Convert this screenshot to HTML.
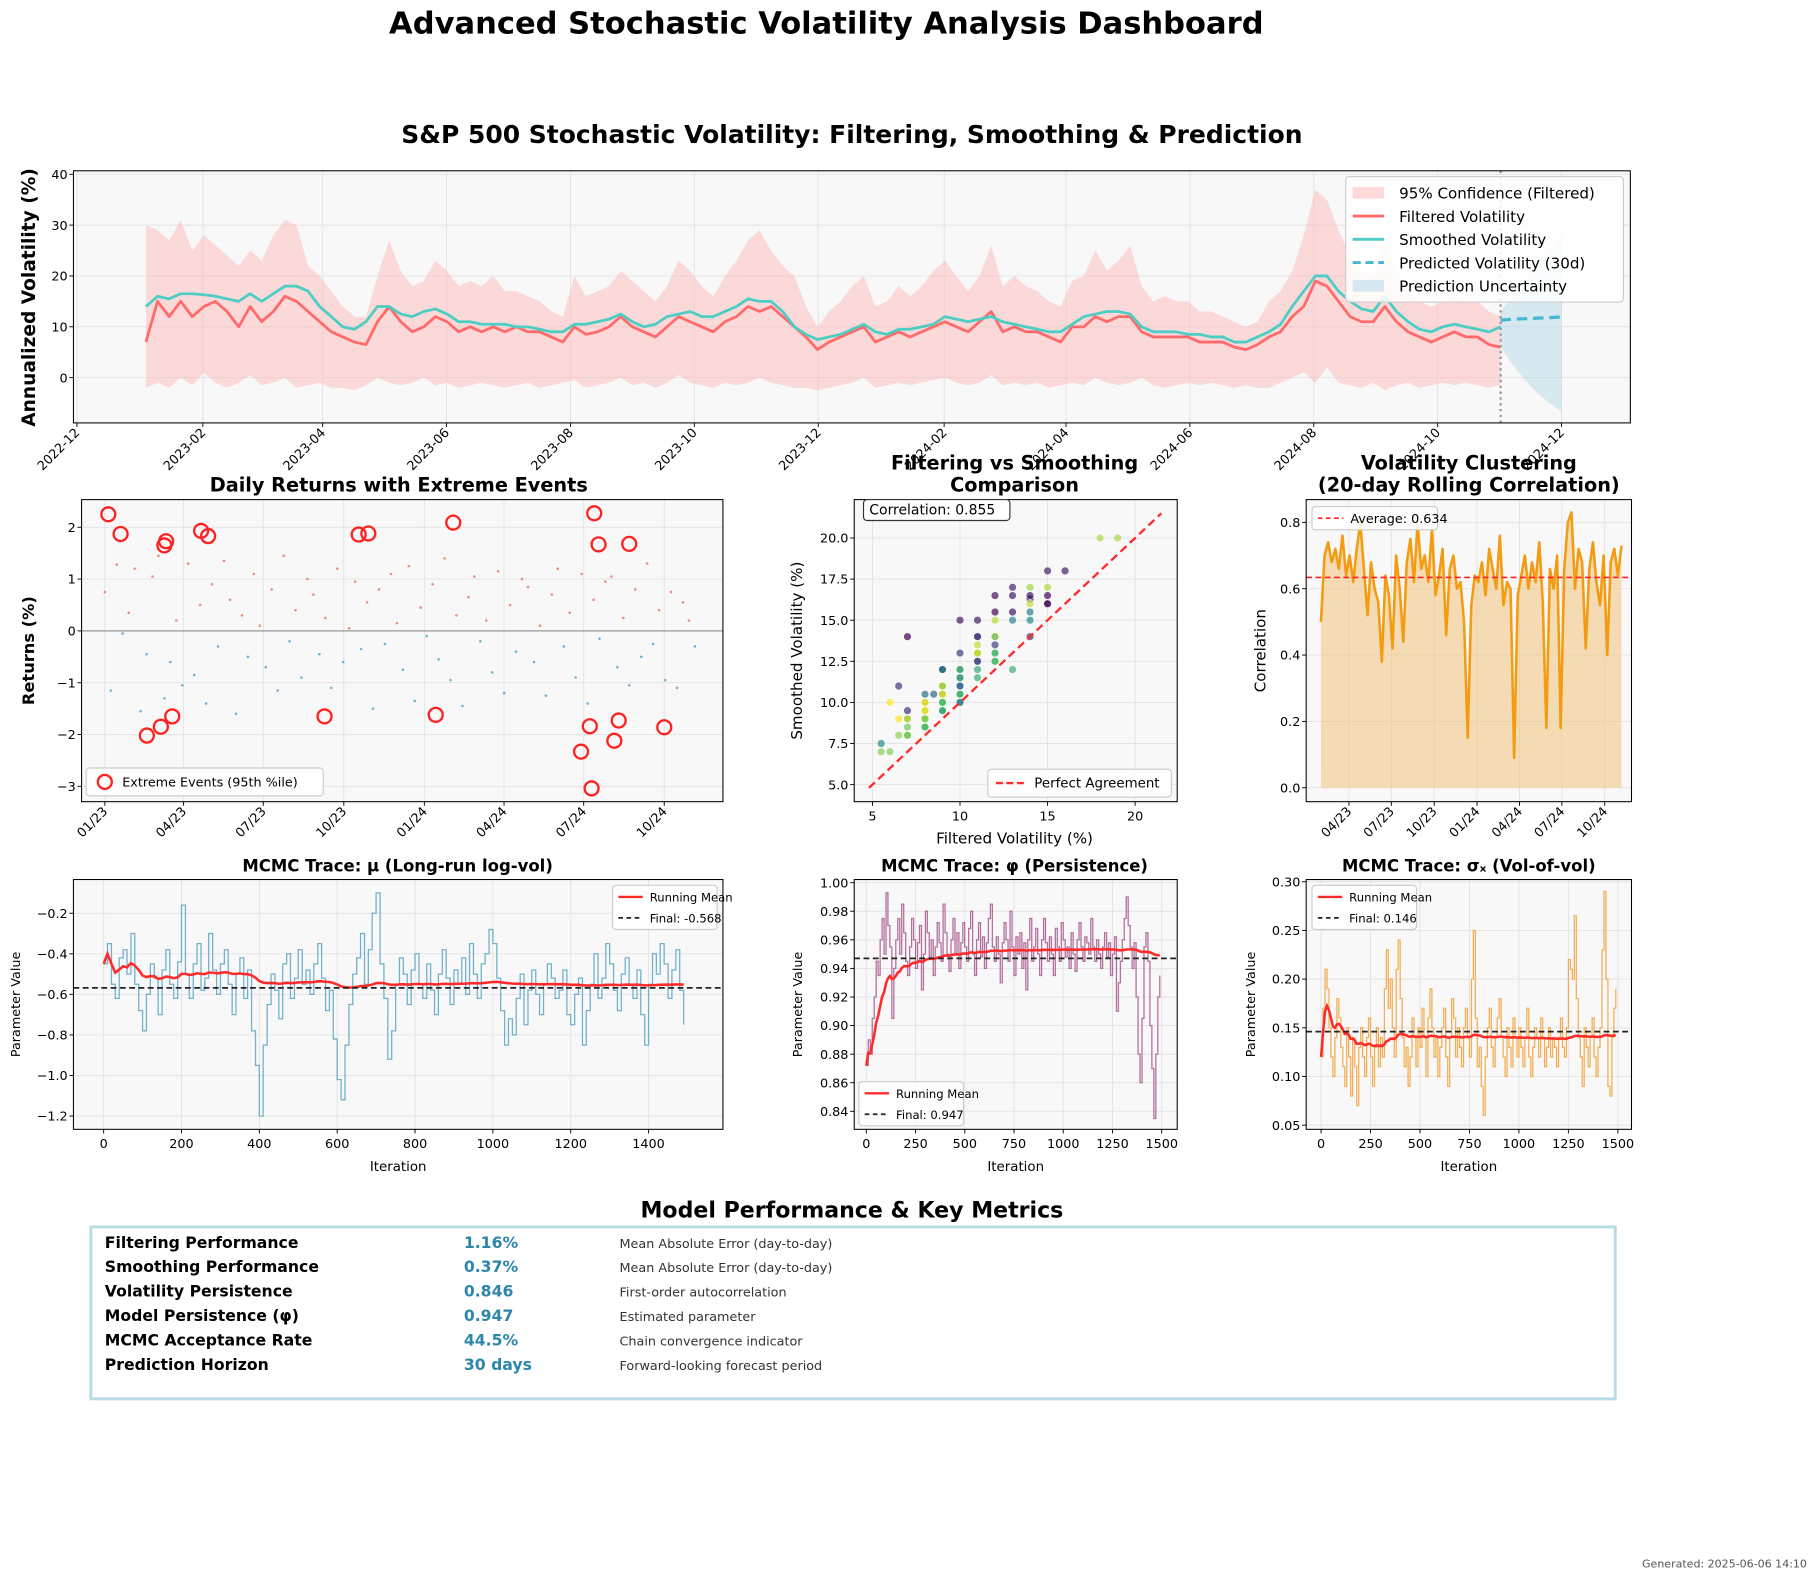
<!DOCTYPE html>
<html><head><meta charset="utf-8"><style>
html,body{margin:0;padding:0;background:#fff;}
svg{display:block;font-family:"DejaVu Sans","Liberation Sans",sans-serif;}
</style></head><body>
<svg id="root" width="1813" height="1572" viewBox="0 0 1560 1353" xmlns="http://www.w3.org/2000/svg">
<text x="711" y="29" text-anchor="middle" font-size="26.3" font-weight="bold">Advanced Stochastic Volatility Analysis Dashboard</text>
<text x="733" y="123" text-anchor="middle" font-size="21.5" font-weight="bold">S&amp;P 500 Stochastic Volatility: Filtering, Smoothing &amp; Prediction</text>
<text x="343" y="423" text-anchor="middle" font-size="16.6" font-weight="bold">Daily Returns with Extreme Events</text>
<text x="873" y="404" text-anchor="middle" font-size="16.6" font-weight="bold">Filtering vs Smoothing</text>
<text x="873" y="423" text-anchor="middle" font-size="16.6" font-weight="bold">Comparison</text>
<text x="1264" y="404" text-anchor="middle" font-size="16.6" font-weight="bold">Volatility Clustering</text>
<text x="1264" y="423" text-anchor="middle" font-size="16.6" font-weight="bold">(20-day Rolling Correlation)</text>
<text x="342" y="750" text-anchor="middle" font-size="14.2" font-weight="bold">MCMC Trace: μ (Long-run log-vol)</text>
<text x="873" y="750" text-anchor="middle" font-size="14.2" font-weight="bold">MCMC Trace: φ (Persistence)</text>
<text x="1264" y="750" text-anchor="middle" font-size="14.2" font-weight="bold">MCMC Trace: σₓ (Vol-of-vol)</text>
<text x="733" y="1048" text-anchor="middle" font-size="19" font-weight="bold">Model Performance &amp; Key Metrics</text>
<rect x="78" y="1056" width="1312" height="148" fill="#fff" stroke="#b8dbe6" stroke-width="2.5"/>
<g font-size="13.5" font-weight="bold">
<text x="90" y="1074">Filtering Performance</text><text x="90" y="1095">Smoothing Performance</text><text x="90" y="1116">Volatility Persistence</text><text x="90" y="1137">Model Persistence (φ)</text><text x="90" y="1158">MCMC Acceptance Rate</text><text x="90" y="1179">Prediction Horizon</text>
</g>
<g font-size="13.5" font-weight="bold" fill="#2e86ab">
<text x="399" y="1074">1.16%</text><text x="399" y="1095">0.37%</text><text x="399" y="1116">0.846</text><text x="399" y="1137">0.947</text><text x="399" y="1158">44.5%</text><text x="399" y="1179">30 days</text>
</g>
<g font-size="11" fill="#333">
<text x="533" y="1074">Mean Absolute Error (day-to-day)</text><text x="533" y="1095">Mean Absolute Error (day-to-day)</text><text x="533" y="1116">First-order autocorrelation</text><text x="533" y="1137">Estimated parameter</text><text x="533" y="1158">Chain convergence indicator</text><text x="533" y="1179">Forward-looking forecast period</text>
</g>
<text x="1555" y="1349" text-anchor="end" font-size="9.5" fill="#555">Generated: 2025-06-06 14:10</text>
</svg>
<script>
// ---------- DATA ----------
const topStart='2023-01-04', topEnd='2024-11-01';
const filteredVol=[7,15,12,15,12,14,15,13,10,14,11,13,16,15,13,11,9,8,7,6.5,11,14,11,9,10,12,11,9,10,9,10,9,10,9,9,8,7,10,8.5,9,10,12,10,9,8,10,12,11,10,9,11,12,14,13,14,12,10,8,5.5,7,8,9,10,7,8,9,8,9,10,11,10,9,11,13,9,10,9,9,8,7,10,10,12,11,12,12,9,8,8,8,8,7,7,7,6,5.5,6.5,8,9,12,14,19,18,15,12,11,11,14,11,9,8,7,8,9,8,8,6.5,6];
const smoothedVol=[14,16,15.5,16.5,16.5,16.3,16,15.5,15,16.5,15,16.5,18,18,17,14,12,10,9.5,11,14,14,12.5,12,13,13.5,12.5,11,11,10.5,10.5,10.5,10,10,9.5,9,9,10.5,10.5,11,11.5,12.5,11,10,10.5,12,12.5,13,12,12,13,14,15.5,15,15,13,10,8.5,7.5,8,8.5,9.5,10.5,9,8.5,9.5,9.5,10,10.5,12,11.5,11,11.5,12,11,10.5,10,9.5,9,9,10.5,12,12.5,13,13,12.5,10,9,9,9,8.5,8.5,8,8,7,7,8,9,10.5,14,17,20,20,17,15,13.5,13,16,13,11,9.5,9,10,10.5,10,9.5,9,10];
const upperCI=[30,29,27,31,25,28,26,24,22,25,23,28,31,30,22,20,17,14,12,12,20,27,21,18,19,23,21,18,19,18,20,17,17,16,15,13,12,20,16,17,18,21,19,17,15,18,23,21,18,16,20,23,27,29,25,22,20,14,10,13,15,18,20,14,15,18,16,18,21,23,20,17,20,26,18,20,18,17,15,14,19,20,25,21,23,26,18,15,16,15,15,13,13,12,11,10,11,15,17,21,28,37,35,29,24,21,20,26,21,17,15,14,15,16,15,15,13,12];
const lowerCI=[-2,-1,-2,0,-1.5,1,-1,-2,-1,0.5,-1.5,-1,0,-2,-1.5,-1,-2,-2,-2.5,-1.5,0,-1,-1.5,-1,0,-1.5,-1,-2,-1.5,-1,-1.5,-2,-1.5,-1,-2,-1.5,-1,-0.5,-2,-1.5,-1,0,-1.5,-1,-2,-1,0.5,-1,-1.5,-2,-1,-1.5,-1,0,-1,-1.5,-2,-2,-2.5,-2,-1.5,-1,0,-2,-1.5,-1,-1.5,-1,-0.5,0,-1,-1.5,-1,0.5,-1.5,-1,-1.5,-1,-2,-1.5,-1,-1.5,0,-1,-1.5,-1,0,-1.5,-2,-1.5,-1,-1.5,-1,-1.5,-2,-1.5,-2,-2,-1,0,1,-1,2,-1,-1.5,-2,-1,-2.5,-1.5,-1,-2,-1.5,-1,-1.5,-1,-1.5,-2,-1.5];
const predDays=[0,6,12,18,24,30];
const predVol=[11.3,11.5,11.6,11.7,11.8,11.9];
const predUpper=[13,16,19,22,25,28];
const predLower=[6,2.5,-0.5,-3,-5,-6.7];
const topYTicks=[0,10,20,30,40];
const topXTicks=['2022-12','2023-02','2023-04','2023-06','2023-08','2023-10','2023-12','2024-02','2024-04','2024-06','2024-08','2024-10','2024-12'];

const dailyReturns=[0.75,-1.15,1.28,-0.05,0.35,1.2,-1.55,-0.45,1.05,1.45,-1.3,-0.6,0.2,-1.05,1.3,-0.85,0.5,-1.4,0.9,-0.3,1.35,0.6,-1.6,0.3,-0.5,1.1,0.1,-0.7,0.8,-1.15,1.45,-0.2,0.4,-0.9,1.0,0.7,-0.45,0.25,-1.1,1.2,-0.6,0.05,0.95,-0.35,0.55,-1.5,0.8,-0.25,1.1,0.15,-0.75,1.25,-1.35,0.45,-0.1,0.9,-0.55,1.4,-0.95,0.3,-1.45,0.65,1.05,-0.2,0.2,-0.8,1.15,-1.2,0.5,-0.4,1.0,0.85,-0.6,0.1,-1.25,0.7,1.2,-0.3,0.35,-0.9,1.1,-1.4,0.6,-0.15,0.95,1.05,-0.7,0.25,-1.05,0.8,-0.5,1.3,-0.25,0.4,-0.95,0.75,-1.1,0.55,0.2,-0.3];
const returnsStart='2023-01-01', returnsEnd='2024-11-05';
const extremeDays=[4,18,68,70,110,118,290,301,398,559,564,599,48,64,77,251,378,544,554,556,582,587,639];
const extremeReturns=[2.25,1.87,1.65,1.73,1.93,1.83,1.86,1.88,2.09,2.27,1.67,1.68,-2.02,-1.85,-1.65,-1.65,-1.62,-2.33,-1.84,-3.04,-2.12,-1.73,-1.86];
const retYTicks=[-3,-2,-1,0,1,2];
const retXTicks=['2023-01','2023-04','2023-07','2023-10','2024-01','2024-04','2024-07','2024-10'];
const retXLabels=['01/23','04/23','07/23','10/23','01/24','04/24','07/24','10/24'];

const scXTicks=[5,10,15,20];
const scYTicks=[5.0,7.5,10.0,12.5,15.0,17.5,20.0];

const rollingCorr=[0.50,0.70,0.74,0.68,0.72,0.66,0.76,0.64,0.70,0.62,0.72,0.80,0.66,0.52,0.68,0.60,0.56,0.38,0.64,0.58,0.42,0.70,0.60,0.44,0.68,0.75,0.62,0.80,0.66,0.70,0.62,0.78,0.58,0.64,0.72,0.46,0.66,0.70,0.60,0.62,0.50,0.15,0.55,0.64,0.62,0.68,0.58,0.72,0.66,0.60,0.76,0.55,0.62,0.60,0.09,0.58,0.64,0.70,0.60,0.68,0.62,0.74,0.56,0.18,0.66,0.60,0.70,0.18,0.66,0.80,0.83,0.60,0.72,0.68,0.42,0.66,0.74,0.62,0.55,0.70,0.40,0.68,0.72,0.64,0.73];
const rollStart='2023-01-31', rollEnd='2024-11-06';
const rollAverage=0.634;
const rollYTicks=[0.0,0.2,0.4,0.6,0.8];
const rollXTicks=['2023-04','2023-07','2023-10','2024-01','2024-04','2024-07','2024-10'];
const rollXLabels=['04/23','07/23','10/23','01/24','04/24','07/24','10/24'];

const traceStep=10;
const muTrace=[-0.45,-0.35,-0.55,-0.62,-0.42,-0.38,-0.50,-0.30,-0.55,-0.68,-0.78,-0.60,-0.45,-0.52,-0.70,-0.48,-0.38,-0.55,-0.62,-0.44,-0.16,-0.50,-0.62,-0.45,-0.35,-0.58,-0.52,-0.30,-0.48,-0.60,-0.45,-0.38,-0.55,-0.70,-0.50,-0.42,-0.62,-0.48,-0.78,-0.95,-1.20,-0.85,-0.65,-0.50,-0.58,-0.72,-0.45,-0.40,-0.62,-0.52,-0.38,-0.55,-0.48,-0.60,-0.45,-0.35,-0.52,-0.68,-0.58,-0.82,-1.02,-1.12,-0.85,-0.65,-0.50,-0.42,-0.30,-0.55,-0.38,-0.20,-0.10,-0.45,-0.62,-0.92,-0.78,-0.55,-0.42,-0.50,-0.65,-0.48,-0.40,-0.55,-0.62,-0.45,-0.58,-0.70,-0.50,-0.38,-0.52,-0.65,-0.48,-0.55,-0.42,-0.60,-0.35,-0.50,-0.62,-0.45,-0.40,-0.28,-0.35,-0.52,-0.68,-0.85,-0.72,-0.80,-0.62,-0.50,-0.75,-0.58,-0.48,-0.60,-0.70,-0.55,-0.45,-0.52,-0.62,-0.58,-0.48,-0.70,-0.75,-0.60,-0.52,-0.85,-0.68,-0.55,-0.40,-0.62,-0.52,-0.35,-0.45,-0.58,-0.68,-0.50,-0.42,-0.55,-0.62,-0.48,-0.70,-0.85,-0.55,-0.40,-0.50,-0.35,-0.45,-0.62,-0.48,-0.38,-0.58,-0.75];
const phiTrace=[0.872,0.890,0.880,0.905,0.920,0.945,0.935,0.960,0.975,0.950,0.993,0.970,0.955,0.905,0.940,0.960,0.975,0.950,0.985,0.965,0.945,0.935,0.955,0.975,0.960,0.940,0.958,0.970,0.925,0.950,0.980,0.965,0.948,0.960,0.935,0.955,0.972,0.958,0.945,0.985,0.965,0.950,0.938,0.960,0.975,0.950,0.965,0.940,0.958,0.972,0.955,0.945,0.968,0.980,0.950,0.935,0.960,0.972,0.948,0.962,0.940,0.958,0.975,0.985,0.955,0.945,0.962,0.950,0.930,0.958,0.972,0.960,0.945,0.980,0.955,0.935,0.962,0.950,0.965,0.940,0.958,0.925,0.960,0.975,0.945,0.955,0.968,0.950,0.935,0.960,0.975,0.958,0.945,0.962,0.950,0.935,0.968,0.955,0.945,0.972,0.960,0.948,0.955,0.940,0.965,0.950,0.938,0.960,0.972,0.955,0.945,0.962,0.958,0.950,0.975,0.955,0.945,0.960,0.950,0.940,0.955,0.965,0.948,0.958,0.935,0.950,0.962,0.910,0.930,0.945,0.960,0.975,0.990,0.970,0.955,0.940,0.958,0.920,0.880,0.860,0.905,0.955,0.965,0.945,0.900,0.870,0.835,0.880,0.920,0.935];
const sigmaTrace=[0.120,0.170,0.210,0.190,0.150,0.120,0.100,0.140,0.180,0.160,0.130,0.110,0.090,0.150,0.120,0.080,0.140,0.110,0.070,0.130,0.150,0.120,0.100,0.140,0.160,0.120,0.090,0.130,0.150,0.110,0.140,0.120,0.190,0.230,0.170,0.200,0.150,0.120,0.210,0.240,0.180,0.140,0.110,0.130,0.090,0.120,0.160,0.140,0.110,0.150,0.130,0.170,0.140,0.100,0.160,0.190,0.150,0.120,0.140,0.100,0.130,0.150,0.170,0.120,0.090,0.140,0.180,0.160,0.120,0.150,0.130,0.110,0.150,0.170,0.140,0.120,0.200,0.250,0.160,0.110,0.130,0.090,0.060,0.120,0.150,0.170,0.130,0.110,0.140,0.160,0.180,0.140,0.120,0.100,0.150,0.130,0.110,0.160,0.140,0.120,0.150,0.130,0.110,0.140,0.170,0.120,0.100,0.130,0.150,0.140,0.120,0.160,0.140,0.110,0.130,0.150,0.120,0.140,0.130,0.110,0.140,0.160,0.130,0.120,0.150,0.220,0.210,0.200,0.265,0.180,0.140,0.120,0.090,0.150,0.130,0.110,0.140,0.160,0.120,0.100,0.130,0.150,0.230,0.290,0.200,0.090,0.080,0.140,0.170,0.190];
const muFinal=-0.568, phiFinal=0.947, sigmaFinal=0.146;
const muYTicks=[-1.2,-1.0,-0.8,-0.6,-0.4,-0.2];
const muXTicks=[0,200,400,600,800,1000,1200,1400];
const phiYTicks=[0.84,0.86,0.88,0.90,0.92,0.94,0.96,0.98,1.00];
const sigYTicks=[0.05,0.10,0.15,0.20,0.25,0.30];
const iterXTicks=[0,250,500,750,1000,1250,1500];

// ---------- HELPERS ----------
const NS='http://www.w3.org/2000/svg';
const root=document.getElementById('root');
function mk(tag,attrs,parent){const e=document.createElementNS(NS,tag);for(const k in attrs)e.setAttribute(k,attrs[k]);parent.appendChild(e);return e;}
function tx(str,attrs,parent){const e=mk('text',attrs,parent);e.textContent=str;return e;}
function day(s){const p=s.split('-').map(Number);return Date.UTC(p[0],p[1]-1,p[2]||1)/864e5;}
function pts(xs,ys){return xs.map((x,i)=>x.toFixed(1)+','+ys[i].toFixed(1)).join(' ');}
function stepPts(xs,ys){const o=[];xs.forEach((x,i)=>{if(i>0)o.push(x.toFixed(1)+','+ys[i-1].toFixed(1));o.push(x.toFixed(1)+','+ys[i].toFixed(1));});return o.join(' ');}
function evenDays(a,b,n){const d0=day(a),d1=day(b);const r=[];for(let i=0;i<n;i++)r.push(d0+(d1-d0)*i/(n-1));return r;}
function fmt(v,d){return v<0?'\u2212'+Math.abs(v).toFixed(d):v.toFixed(d);}
function axesBox(box,name){
  const g=mk('g',{},root);
  
  
  const f=mk('rect',{x:box.x,y:box.y,width:box.w,height:box.h,fill:'#f8f8f8'},g);
  
  
  return g;
}
function frame(box,g){
  const r=mk('rect',{x:box.x,y:box.y,width:box.w,height:box.h,fill:'none',stroke:'#000','stroke-width':0.9},g);
  
  
}
function yTicks(box,g,ticks,ys,dec,fs){
  ticks.forEach(t=>{const y=ys(t);
    mk('line',{x1:box.x,x2:box.x+box.w,y1:y,y2:y,stroke:'#e3e3e3','stroke-width':0.8},g);
    mk('line',{x1:box.x-3.5,x2:box.x,y1:y,y2:y,stroke:'#000','stroke-width':0.8},g);
    const l=tx(fmt(t,dec),{x:box.x-5,y:y+4,'text-anchor':'end','font-size':fs||11},g);
    
    
  });
}
function xTicks(box,g,ticks,xs,labels,rot,fs){
  ticks.forEach((t,i)=>{const x=xs(t);
    mk('line',{x1:x,x2:x,y1:box.y,y2:box.y+box.h,stroke:'#e3e3e3','stroke-width':0.8},g);
    mk('line',{x1:x,x2:x,y1:box.y+box.h,y2:box.y+box.h+3.5,stroke:'#000','stroke-width':0.8},g);
    let l;
    if(rot){l=tx(labels[i],{x:x+3,y:box.y+box.h+9,'text-anchor':'end','font-size':fs||11,transform:`rotate(-45 ${x+3} ${box.y+box.h+9})`},g);}
    else{l=tx(labels[i],{x:x,y:box.y+box.h+16,'text-anchor':'middle','font-size':fs||11},g);}
    
    
  });
}
function clip(id,box){const d=mk('defs',{},root);const c=mk('clipPath',{id:id},d);mk('rect',{x:box.x,y:box.y,width:box.w,height:box.h},c);}
function viridis(t){const s=[[68,1,84],[59,82,139],[33,145,140],[94,201,98],[253,231,37]];const p=t*4,i=Math.min(3,Math.floor(p)),f=p-i;const a=s[i],b=s[i+1];return `rgb(${a.map((v,k)=>Math.round(v+(b[k]-v)*f)).join(',')})`;}

// ---------- TOP CHART ----------
(function(){
  const box={x:63,y:147,w:1340,h:217};
  const g=axesBox(box,'volatility-chart');
  const X=d=>66+(d-day('2022-12-01'))*1.748;
  const Y=v=>325-4.375*v;
  yTicks(box,g,topYTicks,Y,0,11);
  xTicks(box,g,topXTicks.map(s=>day(s+'-01')),X,topXTicks,true,11);
  clip('cTop',box);
  const pg=mk('g',{'clip-path':'url(#cTop)'},g);
  const days=evenDays(topStart,topEnd,filteredVol.length);
  const xs=days.map(X);
  const up=xs.map((x,i)=>x.toFixed(1)+','+Y(upperCI[i]).toFixed(1));
  const lo=xs.map((x,i)=>x.toFixed(1)+','+Y(lowerCI[i]!==undefined?lowerCI[i]:-1.5).toFixed(1)).reverse();
  const band=mk('polygon',{points:up.concat(lo).join(' '),fill:'#ffb3b3','fill-opacity':0.45},pg);
  
  
  const endD=day(topEnd);
  const pxs=predDays.map(d=>X(endD+d));
  const pb=mk('polygon',{points:pts(pxs,predUpper.map(Y))+' '+pts(pxs.slice().reverse(),predLower.map(Y).reverse()),fill:'#add8e6','fill-opacity':0.45},pg);
  
  
  const fl=mk('polyline',{points:pts(xs,filteredVol.map(Y)),fill:'none',stroke:'#ff6b6b','stroke-width':2.4,'stroke-linejoin':'round'},pg);
  
  
  const sl=mk('polyline',{points:pts(xs,smoothedVol.map(Y)),fill:'none',stroke:'#4ecdc4','stroke-width':2.4,'stroke-linejoin':'round'},pg);
  
  
  const pl=mk('polyline',{points:pts(pxs,predVol.map(Y)),fill:'none',stroke:'#45b7d1','stroke-width':2.8,'stroke-dasharray':'9,5'},pg);
  
  
  const vl=mk('line',{x1:X(endD),x2:X(endD),y1:box.y,y2:box.y+box.h,stroke:'#999','stroke-width':2,'stroke-dasharray':'2,3'},pg);
  
  
  frame(box,g);
  const yl=tx('Annualized Volatility (%)',{x:30,y:256,'text-anchor':'middle','font-size':16,'font-weight':'bold',transform:'rotate(-90 30 256)'},g);
  
  
  const lg=mk('g',{},g);
  
  
  mk('rect',{x:1158,y:152,width:239,height:108,rx:3,fill:'#fff','fill-opacity':0.85,stroke:'#ccc'},lg);
  const items=[['95% Confidence (Filtered)','rect','#ffb3b3'],['Filtered Volatility','line','#ff6b6b'],['Smoothed Volatility','line','#4ecdc4'],['Predicted Volatility (30d)','dash','#45b7d1'],['Prediction Uncertainty','rect','#add8e6']];
  items.forEach((it,i)=>{const y=166+i*20;
    if(it[1]==='rect')mk('rect',{x:1164,y:y-5,width:27,height:10,fill:it[2],'fill-opacity':0.5},lg);
    else mk('line',{x1:1164,x2:1191,y1:y,y2:y,stroke:it[2],'stroke-width':2.5,'stroke-dasharray':it[1]==='dash'?'7,4':'none'},lg);
    const t=tx(it[0],{x:1204,y:y+5,'font-size':13},lg);
    
    
  });
})();

// ---------- RETURNS ----------
(function(){
  const box={x:70,y:430,w:552,h:260};
  const g=axesBox(box,'returns-chart');
  const d0=day(returnsStart);
  const X=d=>90+(d-d0)*0.7535;
  const Y=v=>543-44.6*v;
  yTicks(box,g,retYTicks,Y,0,11);
  xTicks(box,g,retXTicks.map(s=>day(s+'-01')),X,retXLabels,true,11);
  mk('line',{x1:box.x,x2:box.x+box.w,y1:Y(0),y2:Y(0),stroke:'#999','stroke-width':1},g);
  const days=evenDays(returnsStart,returnsEnd,dailyReturns.length);
  dailyReturns.forEach((r,i)=>{
    const c=mk('circle',{cx:X(days[i]),cy:Y(r),r:1.1,fill:r>=0?'#e8735a':'#4f9fc8','fill-opacity':0.8},g);
    
    
  });
  extremeDays.forEach((d,i)=>{
    const c=mk('circle',{cx:X(d0+d),cy:Y(extremeReturns[i]),r:6,fill:'none',stroke:'#ff2020','stroke-width':2},g);
    
    
  });
  frame(box,g);
  const yl=tx('Returns (%)',{x:29,y:560,'text-anchor':'middle','font-size':14,'font-weight':'bold',transform:'rotate(-90 29 560)'},g);
  
  
  const lg=mk('g',{},g);
  
  
  mk('rect',{x:74,y:661,width:204,height:24,rx:3,fill:'#fff','fill-opacity':0.85,stroke:'#ccc'},lg);
  mk('circle',{cx:90,cy:673,r:6,fill:'none',stroke:'#ff2020','stroke-width':2},lg);
  tx('Extreme Events (95th %ile)',{x:105,y:677,'font-size':11},lg);
})();

// ---------- SCATTER ----------
(function(){
  const box={x:735,y:430,w:278,h:260};
  const g=axesBox(box,'scatter-chart');
  const X=v=>750.7+(v-5)*15.07;
  const Y=v=>675.3-(v-5)*14.15;
  yTicks(box,g,scYTicks,Y,1,11);
  xTicks(box,g,scXTicks,X,scXTicks.map(String),false,11);
  clip('cSc',box);
  const pg=mk('g',{'clip-path':'url(#cSc)'},g);
  filteredVol.forEach((f,i)=>{
    const c=mk('circle',{cx:X(f),cy:Y(smoothedVol[i]),r:3.3,fill:viridis(i/(filteredVol.length-1)),'fill-opacity':0.7,stroke:'#fff','stroke-width':0.4},pg);
    
    
  });
  const dl=mk('line',{x1:X(4.8),y1:Y(4.8),x2:X(21.5),y2:Y(21.5),stroke:'#ff2a2a','stroke-width':2,'stroke-dasharray':'7,4'},pg);
  
  
  frame(box,g);
  const cb=mk('g',{},g);
  
  
  mk('rect',{x:743,y:430,width:126,height:18,rx:3,fill:'#fff','fill-opacity':0.9,stroke:'#333'},cb);
  tx('Correlation: 0.855',{x:748,y:443,'font-size':12},cb);
  const lg=mk('g',{},g);
  
  
  mk('rect',{x:850,y:662,width:158,height:24,rx:3,fill:'#fff','fill-opacity':0.85,stroke:'#ccc'},lg);
  mk('line',{x1:857,x2:882,y1:674,y2:674,stroke:'#ff2a2a','stroke-width':2,'stroke-dasharray':'6,3'},lg);
  tx('Perfect Agreement',{x:890,y:678,'font-size':11.5},lg);
  const xl=tx('Filtered Volatility (%)',{x:873,y:726,'text-anchor':'middle','font-size':13},g);
  
  
  const yl=tx('Smoothed Volatility (%)',{x:690,y:560,'text-anchor':'middle','font-size':13,transform:'rotate(-90 690 560)'},g);
  
  
})();

// ---------- ROLLING CORRELATION ----------
(function(){
  const box={x:1124,y:430,w:280,h:260};
  const g=axesBox(box,'rolling-correlation-chart');
  const X=d=>1160.8+(d-day('2023-04-01'))*0.401;
  const Y=v=>678-285.5*v;
  yTicks(box,g,rollYTicks,Y,1,11);
  xTicks(box,g,rollXTicks.map(s=>day(s+'-01')),X,rollXLabels,true,11);
  const days=evenDays(rollStart,rollEnd,rollingCorr.length);
  const xs=days.map(X), ys=rollingCorr.map(Y);
  const area=mk('polygon',{points:pts(xs,ys)+` ${xs[xs.length-1]},${Y(0)} ${xs[0]},${Y(0)}`,fill:'#f3c27a','fill-opacity':0.55},g);
  
  
  const ln=mk('polyline',{points:pts(xs,ys),fill:'none',stroke:'#f39c12','stroke-width':2.2,'stroke-linejoin':'round'},g);
  
  
  const av=mk('line',{x1:box.x,x2:box.x+box.w,y1:Y(rollAverage),y2:Y(rollAverage),stroke:'#ff2020','stroke-width':1.5,'stroke-dasharray':'5,3'},g);
  
  
  frame(box,g);
  const lg=mk('g',{},g);
  
  
  mk('rect',{x:1129,y:436,width:108,height:20,rx:3,fill:'#fff','fill-opacity':0.85,stroke:'#ccc'},lg);
  mk('line',{x1:1134,x2:1156,y1:446,y2:446,stroke:'#ff2020','stroke-width':1.5,'stroke-dasharray':'4,3'},lg);
  tx('Average: 0.634',{x:1162,y:450,'font-size':11},lg);
  const yl=tx('Correlation',{x:1089,y:560,'text-anchor':'middle','font-size':13,transform:'rotate(-90 1089 560)'},g);
  
  
})();

// ---------- MCMC TRACES ----------
function trace(box,name,data,final,X,Y,yt,xt,dec,color,legendPos,finalLabel,ylabX){
  const g=axesBox(box,name);
  yTicks(box,g,yt,Y,dec,11);
  xTicks(box,g,xt,X,xt.map(String),false,11);
  clip('c'+name,box);
  const pg=mk('g',{'clip-path':'url(#c'+name+')'},g);
  const it=data.map((v,i)=>i*traceStep);
  const tl=mk('polyline',{points:stepPts(it.map(X),data.map(Y)),fill:'none',stroke:color,'stroke-width':1.1,'stroke-opacity':0.85},pg);
  
  
  let s=0;const rm=data.map((v,i)=>{s+=v;return s/(i+1);});
  const ml=mk('polyline',{points:pts(it.map(X),rm.map(Y)),fill:'none',stroke:'#ff2a2a','stroke-width':2.2},pg);
  
  
  const fl=mk('line',{x1:box.x,x2:box.x+box.w,y1:Y(final),y2:Y(final),stroke:'#222','stroke-width':1.5,'stroke-dasharray':'5,3'},pg);
  
  
  frame(box,g);
  const lg=mk('g',{},g);
  
  
  const lx=legendPos[0],ly=legendPos[1];
  mk('rect',{x:lx,y:ly,width:90,height:38,rx:3,fill:'#fff','fill-opacity':0.85,stroke:'#ccc'},lg);
  mk('line',{x1:lx+5,x2:lx+26,y1:ly+10,y2:ly+10,stroke:'#ff2a2a','stroke-width':2},lg);
  tx('Running Mean',{x:lx+32,y:ly+14,'font-size':10},lg);
  mk('line',{x1:lx+5,x2:lx+26,y1:ly+28,y2:ly+28,stroke:'#222','stroke-width':1.5,'stroke-dasharray':'4,3'},lg);
  tx(finalLabel,{x:lx+32,y:ly+32,'font-size':10},lg);
  const xl=tx('Iteration',{x:box.x+box.w/2,y:box.y+box.h+36,'text-anchor':'middle','font-size':11.5},g);
  
  
  const cy=box.y+box.h/2;
  const yl=tx('Parameter Value',{x:ylabX,y:cy,'text-anchor':'middle','font-size':11,transform:`rotate(-90 ${ylabX} ${cy})`},g);
  
  
}
trace({x:63,y:757,w:559,h:215},'mu-trace',muTrace,muFinal,i=>89+0.335*i,v=>786-174.6*(v+0.2),muYTicks,muXTicks,1,'#5aa3c4',[527,762],'Final: -0.568',17);
trace({x:735,y:757,w:278,h:215},'phi-trace',phiTrace,phiFinal,i=>745.4+0.1695*i,v=>759.7-(v-1.0)*1230,phiYTicks,iterXTicks,2,'#a8578e',[739,931],'Final: 0.947',690);
trace({x:1124,y:757,w:280,h:215},'sigma-trace',sigmaTrace,sigmaFinal,i=>1136.8+0.1703*i,v=>758.9-(v-0.30)*838,sigYTicks,iterXTicks,2,'#f2a23a',[1129,762],'Final: 0.146',1080);
</script>
</body></html>
